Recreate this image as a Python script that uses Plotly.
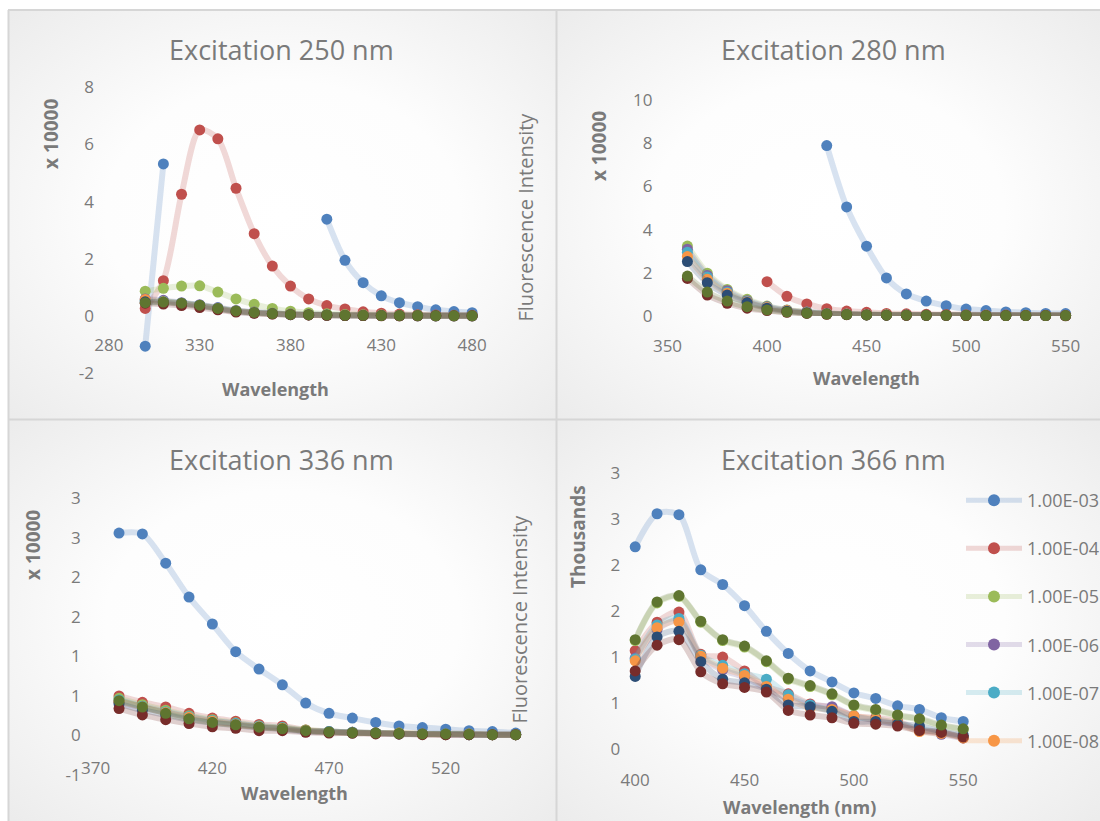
import base64
import plotly.graph_objects as go

# ---------------- data ----------------
series_names = ["1.00E-03", "1.00E-04", "1.00E-05", "1.00E-06", "1.00E-07",
                "1.00E-08", "1.00E-09", "1.00E-10", "1.00E-11"]
marker_colors = ["#4F81BD", "#C0504D", "#9BBB59", "#8064A2", "#4BACC6",
                 "#F79646", "#2C4D75", "#772C2A", "#5F7530"]

# Excitation 250 nm (x 10000)
wl_250 = [300, 310, 320, 330, 340, 350, 360, 370, 380, 390, 400, 410, 420, 430, 440, 450, 460, 470, 480]
ex250 = [
    [-1.05, 5.32, None, None, None, None, None, None, None, None, 3.39, 1.95, 1.17, 0.71, 0.47, 0.33, 0.22, 0.16, 0.12],
    [0.27, 1.24, 4.26, 6.51, 6.2, 4.47, 2.88, 1.75, 1.05, 0.6, 0.37, 0.25, 0.15, 0.1, 0.07, 0.05, 0.04, 0.03, 0.03],
    [0.87, 0.97, 1.05, 1.06, 0.84, 0.6, 0.41, 0.27, 0.17, 0.12, 0.08, 0.06, 0.05, 0.04, 0.03, 0.03, 0.02, 0.02, 0.02],
    [0.6, 0.55, 0.47, 0.4, 0.3, 0.2, 0.14, 0.1, 0.07, 0.05, 0.04, 0.03, 0.03, 0.02, 0.02, 0.02, 0.01, 0.01, 0.01],
    [0.55, 0.52, 0.45, 0.38, 0.28, 0.18, 0.13, 0.09, 0.06, 0.05, 0.04, 0.03, 0.02, 0.02, 0.02, 0.01, 0.01, 0.01, 0.01],
    [0.58, 0.5, 0.43, 0.36, 0.27, 0.17, 0.12, 0.08, 0.06, 0.04, 0.03, 0.03, 0.02, 0.02, 0.01, 0.01, 0.01, 0.01, 0.01],
    [0.5, 0.48, 0.42, 0.35, 0.26, 0.16, 0.11, 0.08, 0.05, 0.04, 0.03, 0.02, 0.02, 0.02, 0.01, 0.01, 0.01, 0.01, 0.01],
    [0.45, 0.42, 0.37, 0.3, 0.22, 0.14, 0.1, 0.07, 0.05, 0.04, 0.03, 0.02, 0.02, 0.01, 0.01, 0.01, 0.01, 0.01, 0.01],
    [0.47, 0.49, 0.45, 0.38, 0.27, 0.18, 0.13, 0.09, 0.06, 0.05, 0.04, 0.03, 0.03, 0.02, 0.02, 0.02, 0.01, 0.01, 0.01],
]

# Excitation 280 nm (x 10000)
wl_280 = [360, 370, 380, 390, 400, 410, 420, 430, 440, 450, 460, 470, 480, 490, 500, 510, 520, 530, 540, 550]
ex280 = [
    [None, None, None, None, None, None, None, 7.89, 5.05, 3.23, 1.76, 1.02, 0.69, 0.48, 0.32, 0.25, 0.19, 0.15, 0.12, 0.11],
    [None, None, None, None, 1.59, 0.91, 0.56, 0.34, 0.23, 0.17, 0.12, 0.1, 0.08, 0.07, 0.06, 0.05, 0.05, 0.04, 0.04, 0.04],
    [3.24, 1.98, 1.23, 0.77, 0.46, 0.28, 0.19, 0.12, 0.09, 0.07, 0.06, 0.05, 0.04, 0.04, 0.03, 0.03, 0.03, 0.03, 0.02, 0.02],
    [3.09, 1.88, 1.17, 0.71, 0.43, 0.27, 0.18, 0.12, 0.09, 0.07, 0.05, 0.05, 0.04, 0.04, 0.03, 0.03, 0.03, 0.02, 0.02, 0.02],
    [2.95, 1.8, 1.1, 0.67, 0.41, 0.26, 0.17, 0.11, 0.08, 0.06, 0.05, 0.04, 0.04, 0.03, 0.03, 0.03, 0.02, 0.02, 0.02, 0.02],
    [2.75, 1.7, 1.05, 0.65, 0.39, 0.25, 0.16, 0.11, 0.08, 0.06, 0.05, 0.04, 0.04, 0.03, 0.03, 0.03, 0.02, 0.02, 0.02, 0.02],
    [2.52, 1.54, 0.97, 0.62, 0.36, 0.22, 0.15, 0.1, 0.07, 0.05, 0.04, 0.04, 0.03, 0.03, 0.03, 0.02, 0.02, 0.02, 0.02, 0.02],
    [1.74, 0.97, 0.59, 0.36, 0.25, 0.17, 0.12, 0.08, 0.06, 0.05, 0.04, 0.03, 0.03, 0.03, 0.02, 0.02, 0.02, 0.02, 0.02, 0.01],
    [1.85, 1.11, 0.69, 0.43, 0.28, 0.19, 0.13, 0.09, 0.07, 0.05, 0.04, 0.04, 0.03, 0.03, 0.03, 0.02, 0.02, 0.02, 0.02, 0.02],
]

# Excitation 336 nm (x 10000)
wl_336 = [380, 390, 400, 410, 420, 430, 440, 450, 460, 470, 480, 490, 500, 510, 520, 530, 540, 550]
ex336 = [
    [2.56, 2.55, 2.18, 1.75, 1.41, 1.06, 0.84, 0.64, 0.41, 0.28, 0.22, 0.165, 0.12, 0.1, 0.08, 0.06, 0.05, 0.03],
    [0.5, 0.42, 0.36, 0.28, 0.22, 0.18, 0.14, 0.12, 0.07, 0.05, 0.04, 0.03, 0.03, 0.02, 0.02, 0.02, 0.01, 0.01],
    [0.47, 0.39, 0.32, 0.25, 0.2, 0.16, 0.12, 0.1, 0.07, 0.05, 0.04, 0.03, 0.03, 0.02, 0.02, 0.02, 0.01, 0.01],
    [0.42, 0.35, 0.29, 0.23, 0.18, 0.15, 0.11, 0.09, 0.06, 0.05, 0.04, 0.03, 0.02, 0.02, 0.02, 0.01, 0.01, 0.01],
    [0.45, 0.37, 0.3, 0.24, 0.19, 0.15, 0.12, 0.1, 0.06, 0.05, 0.04, 0.03, 0.02, 0.02, 0.02, 0.01, 0.01, 0.01],
    [0.43, 0.36, 0.29, 0.23, 0.18, 0.14, 0.11, 0.09, 0.06, 0.04, 0.03, 0.03, 0.02, 0.02, 0.01, 0.01, 0.01, 0.01],
    [0.4, 0.32, 0.26, 0.2, 0.16, 0.13, 0.1, 0.08, 0.05, 0.04, 0.03, 0.03, 0.02, 0.02, 0.01, 0.01, 0.01, 0.01],
    [0.34, 0.26, 0.2, 0.15, 0.11, 0.09, 0.06, 0.06, 0.04, 0.03, 0.03, 0.02, 0.02, 0.01, 0.01, 0.01, 0.01, 0.01],
    [0.44, 0.36, 0.28, 0.21, 0.165, 0.135, 0.105, 0.085, 0.06, 0.045, 0.035, 0.03, 0.025, 0.02, 0.02, 0.015, 0.01, 0.01],
]

# Excitation 366 nm (thousands)
wl_366 = [400, 410, 420, 430, 440, 450, 460, 470, 480, 490, 500, 510, 520, 530, 540, 550]
ex366 = [
    [2.2, 2.56, 2.55, 1.95, 1.79, 1.56, 1.28, 1.04, 0.85, 0.73, 0.61, 0.55, 0.47, 0.43, 0.34, 0.3],
    [1.07, 1.38, 1.49, 1.03, 1.0, 0.85, 0.68, 0.6, 0.49, 0.45, 0.36, 0.34, 0.3, 0.21, 0.18, 0.12],
    [1.18, 1.59, 1.66, 1.38, 1.18, 1.11, 0.95, 0.76, 0.68, 0.59, 0.47, 0.42, 0.36, 0.32, 0.25, 0.21],
    [0.99, 1.3, 1.4, 1.0, 0.86, 0.78, 0.66, 0.55, 0.48, 0.46, 0.36, 0.31, 0.27, 0.2, 0.16, 0.12],
    [0.98, 1.35, 1.42, 1.02, 0.91, 0.82, 0.76, 0.59, 0.48, 0.42, 0.35, 0.32, 0.28, 0.22, 0.18, 0.13],
    [0.96, 1.32, 1.38, 1.01, 0.88, 0.8, 0.68, 0.54, 0.45, 0.43, 0.36, 0.32, 0.28, 0.19, 0.17, 0.12],
    [0.79, 1.22, 1.28, 0.95, 0.76, 0.72, 0.65, 0.48, 0.46, 0.41, 0.3, 0.3, 0.27, 0.25, 0.19, 0.15],
    [0.85, 1.13, 1.19, 0.84, 0.71, 0.67, 0.62, 0.42, 0.37, 0.34, 0.28, 0.27, 0.25, 0.2, 0.18, 0.13],
    [1.19, 1.6, 1.67, 1.39, 1.19, 1.12, 0.96, 0.77, 0.69, 0.6, 0.48, 0.43, 0.37, 0.33, 0.26, 0.22],
]

titles = ["Excitation 250 nm", "Excitation 280 nm", "Excitation 336 nm", "Excitation 366 nm"]
x_ticks = [[280, 330, 380, 430, 480], [350, 400, 450, 500, 550], [370, 420, 470, 520], [400, 450, 500, 550]]
y_tickvals = [[-2, 0, 2, 4, 6, 8], [0, 2, 4, 6, 8, 10],
              [-0.5, 0, 0.5, 1, 1.5, 2, 2.5, 3], [0, 0.5, 1, 1.5, 2, 2.5, 3]]
y_ticktext = [["-2", "0", "2", "4", "6", "8"], ["0", "2", "4", "6", "8", "10"],
              ["-1", "0", "1", "1", "2", "2", "3", "3"], ["0", "1", "1", "2", "2", "3", "3"]]

# ---------------- helpers ----------------
W, H = 1100, 821
FONT = "Open Sans"
GRAY = "#7a7a7a"


def px(x):
    return x / W


def py(y):
    return 1 - y / H


def rgba(hexcol, a):
    h = hexcol.lstrip("#")
    return "rgba(%d,%d,%d,%.2f)" % (int(h[0:2], 16), int(h[2:4], 16), int(h[4:6], 16), a)


fig = go.Figure()

panels = [(wl_250, ex250, "x", "y"), (wl_280, ex280, "x2", "y2"),
          (wl_336, ex336, "x3", "y3"), (wl_366, ex366, "x4", "y4")]

for pi, (wl, data, xa, ya) in enumerate(panels):
    for si, vals in enumerate(data):
        col = marker_colors[si]
        fig.add_trace(go.Scatter(
            x=wl, y=vals, xaxis=xa, yaxis=ya,
            mode="lines+markers", name=series_names[si],
            line=dict(color=rgba(col, 0.22), width=6, shape="spline", smoothing=0.8),
            marker=dict(color=col, size=11),
            cliponaxis=False,
            legendgroup=series_names[si],
            showlegend=(pi == 3 and si < 6),
        ))

# ---------------- layout ----------------
ax_common = dict(showgrid=False, zeroline=False, showline=False, ticks="", automargin=False,
                 tickfont=dict(family=FONT, size=17, color=GRAY))

fig.update_layout(
    width=W, height=H, margin=dict(l=0, r=0, t=0, b=0, pad=0, autoexpand=False),
    paper_bgcolor="white", plot_bgcolor="rgba(0,0,0,0)",
    xaxis=dict(domain=[px(108.9), px(472.1)], range=[280, 480], anchor="free", position=py(316),
               tickvals=x_ticks[0], ticklabelstandoff=17, **ax_common),
    yaxis=dict(domain=[py(373.3), py(87.3)], range=[-2, 8], anchor="x",
               tickvals=y_tickvals[0], ticktext=y_ticktext[0], ticklabelstandoff=14, **ax_common),
    xaxis2=dict(domain=[px(667.5), px(1065.6)], range=[350, 550], anchor="y2",
                tickvals=x_ticks[1], ticklabelstandoff=18, **ax_common),
    yaxis2=dict(domain=[py(316), py(100)], range=[0, 10], anchor="x2",
                tickvals=y_tickvals[1], ticktext=y_ticktext[1], ticklabelstandoff=14, **ax_common),
    xaxis3=dict(domain=[px(95.7), px(515.7)], range=[370, 550], anchor="free", position=py(735.7),
                tickvals=x_ticks[2], ticklabelstandoff=20, **ax_common),
    yaxis3=dict(domain=[py(775), py(498.3)], range=[-0.5, 3], anchor="x3",
                tickvals=y_tickvals[2], ticktext=y_ticktext[2], ticklabelstandoff=14, **ax_common),
    xaxis4=dict(domain=[px(635.2), px(963.2)], range=[400, 550], anchor="y4",
                tickvals=x_ticks[3], ticklabelstandoff=19, **ax_common),
    yaxis4=dict(domain=[py(749), py(473.3)], range=[0, 3], anchor="x4",
                tickvals=y_tickvals[3], ticktext=y_ticktext[3], ticklabelstandoff=14, **ax_common),
    legend=dict(x=px(961), y=py(482), xanchor="left", yanchor="top",
                font=dict(family=FONT, size=18, color=GRAY), itemwidth=56,
                bgcolor="rgba(0,0,0,0)", tracegroupgap=21.7, itemsizing="constant"),
    showlegend=True,
)

# panel backgrounds (radial gradient)
svg = ("<svg xmlns='http://www.w3.org/2000/svg' width='200' height='200' preserveAspectRatio='none'>"
       "<defs><radialGradient id='g' cx='50%' cy='50%' r='72%'>"
       "<stop offset='0' stop-color='#ffffff'/><stop offset='0.45' stop-color='#fdfdfd'/>"
       "<stop offset='1' stop-color='#ebebeb'/></radialGradient></defs>"
       "<rect width='200' height='200' fill='url(#g)'/></svg>")
src = "data:image/svg+xml;base64," + base64.b64encode(svg.encode()).decode()
boxes = [(9, 10, 556, 419), (557, 10, 1100, 419), (9, 420, 556, 821), (557, 420, 1100, 821)]
images = []
for (x0, y0, x1, y1) in boxes:
    images.append(dict(source=src, xref="paper", yref="paper", x=px(x0), y=py(y0),
                       sizex=px(x1 - x0), sizey=(y1 - y0) / H, sizing="stretch",
                       layer="below", xanchor="left", yanchor="top"))
fig.update_layout(images=images)

# border lines
line_col = "#d6d6d6"
shapes = [
    dict(type="line", xref="paper", yref="paper", x0=px(8), x1=1, y0=py(10), y1=py(10), line=dict(color=line_col, width=2)),
    dict(type="line", xref="paper", yref="paper", x0=px(8), x1=1, y0=py(419.5), y1=py(419.5), line=dict(color=line_col, width=2)),
    dict(type="line", xref="paper", yref="paper", x0=px(8.5), x1=px(8.5), y0=py(10), y1=0, line=dict(color=line_col, width=2)),
    dict(type="line", xref="paper", yref="paper", x0=px(556.5), x1=px(556.5), y0=py(10), y1=0, line=dict(color=line_col, width=2)),
]
fig.update_layout(shapes=shapes)

# text annotations
ann = []
title_pos = [(281.8, 50), (833.4, 50), (281.8, 460), (833.4, 459)]
for t, (x, y) in zip(titles, title_pos):
    ann.append(dict(text=t, x=px(x), y=py(y), xref="paper", yref="paper", showarrow=False,
                    xanchor="center", yanchor="middle", font=dict(family=FONT, size=27, color=GRAY)))
xtitle = [("Wavelength", 275.4, 389), ("Wavelength", 866.5, 378), ("Wavelength", 294.6, 793),
          ("Wavelength (nm)", 799, 807)]
for t, x, y in xtitle:
    ann.append(dict(text="<b>" + t + "</b>", x=px(x), y=py(y), xref="paper", yref="paper", showarrow=False,
                    xanchor="center", yanchor="middle", font=dict(family=FONT, size=18, color=GRAY)))
unit_lbl = [("x 10000", 50.9, 134), ("x 10000", 599.1, 146), ("x 10000", 33, 545), ("Thousands", 578, 537)]
for t, x, y in unit_lbl:
    ann.append(dict(text="<b>" + t + "</b>", x=px(x), y=py(y), xref="paper", yref="paper", showarrow=False,
                    textangle=-90, xanchor="center", yanchor="middle",
                    font=dict(family=FONT, size=19, color=GRAY)))
for x, y in [(525, 217.5), (518.6, 619)]:
    ann.append(dict(text="Fluorescence Intensity", x=px(x), y=py(y), xref="paper", yref="paper",
                    showarrow=False, textangle=-90, xanchor="center", yanchor="middle",
                    font=dict(family=FONT, size=20, color=GRAY)))
fig.update_layout(annotations=ann)

fig.write_html("out.html",
               post_script="document.body.style.margin='0';document.body.style.overflow='hidden';")
